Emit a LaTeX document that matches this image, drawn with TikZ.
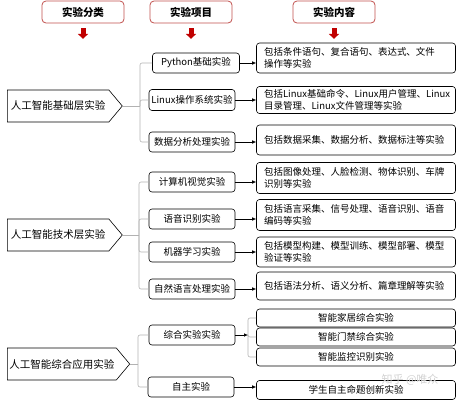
\documentclass[tikz,border=0pt]{standalone}
\usepackage{fontspec}
\setmainfont{Noto Sans CJK SC}
\usetikzlibrary{shapes.symbols,arrows.meta,positioning}

\begin{document}
\begin{tikzpicture}[x=1pt, y=-1pt,
	hdr/.style={draw={rgb,255:red,192;green,80;blue,77}, line width=0.8pt, rounded corners=4pt, minimum width=82pt, minimum height=22pt, font=\fontsize{10.5}{12}\selectfont\bfseries},
	dn/.style={draw={rgb,255:red,192;green,0;blue,0}, line width=5pt, -{Triangle[width=10pt,length=5pt]}},
	cat/.style={draw, fill=white, signal, signal to=east, signal pointer angle=100, line width=0.6pt, minimum width=115pt, minimum height=32pt, inner xsep=2pt, anchor=west, font=\fontsize{10.5}{12}\selectfont},
	item/.style={draw, rounded corners=3pt, line width=0.6pt, minimum width=86pt, minimum height=20pt, inner sep=1pt, font=\fontsize{9.5}{11}\selectfont},
	cont/.style={draw, rounded corners=3pt, line width=0.6pt, minimum width=199pt, text width=184pt, inner xsep=7.5pt, inner ysep=2pt, align=left, font=\fontsize{9.5}{12.5}\selectfont},
	sub/.style={cont, align=center, minimum height=18pt},
	brc/.style={draw=gray!60, line width=0.6pt, rounded corners=2pt},
	lnk/.style={line width=0.6pt, -{Latex[length=4pt,width=3.5pt]}}]
	\useasboundingbox (0,0) rectangle (456,400);
	% headers
	\node[hdr] (H1) at (83, 12) {实验分类};
	\node[hdr] (H2) at (191, 12) {实验项目};
	\node[hdr] (H3) at (334, 12) {实验内容};
	\coordinate[below=5pt of H1] (R1a);
	\coordinate[below=15.5pt of H1] (R1b);
	\coordinate[below=5pt of H2] (R2a);
	\coordinate[below=15.5pt of H2] (R2b);
	\coordinate[below=5pt of H3] (R3a);
	\coordinate[below=15.5pt of H3] (R3b);
	\draw[dn] (R1a) -- (R1b);
	\draw[dn] (R2a) -- (R2b);
	\draw[dn] (R3a) -- (R3b);
	% categories
	\node[cat] (A) at (7, 106) {人工智能基础层实验};
	\node[cat] (B) at (7, 235) {人工智能技术层实验};
	\node[cat] (C) at (7, 364) {人工智能综合应用实验};
	% items
	\node[item, minimum width=87pt] (A1) at (196, 63) {Python基础实验};
	\node[item, minimum height=21pt] (A2) at (192, 100) {Linux操作系统实验};
	\node[item] (A3) at (192, 142) {数据分析处理实验};
	\node[item] (B1) at (192, 182) {计算机视觉实验};
	\node[item] (B2) at (192, 219) {语音识别实验};
	\node[item] (B3) at (192, 252) {机器学习实验};
	\node[item] (B4) at (192, 289) {自然语言处理实验};
	\node[item] (C1) at (192, 335) {综合实验实验};
	\node[item] (C2) at (191, 387) {自主实验};
	% contents
	\node[cont, minimum height=30pt] (A1c) at (356, 58) {包括条件语句、复合语句、表达式、文件\\操作等实验};
	\node[cont, minimum height=27pt] (A2c) at (356, 100) {包括Linux基础命令、Linux用户管理、Linux\\目录管理、Linux文件管理等实验};
	\node[cont, minimum height=30pt] (A3c) at (356, 140) {包括数据采集、数据分析、数据标注等实验};
	\node[cont, minimum height=31pt] (B1c) at (356, 178) {包括图像处理、人脸检测、物体识别、车牌\\识别等实验};
	\node[cont, minimum height=31pt] (B2c) at (356, 215) {包括语言采集、信号处理、语音识别、语音\\编码等实验};
	\node[cont, minimum height=30pt] (B3c) at (356, 252) {包括模型构建、模型训练、模型部署、模型\\验证等实验};
	\node[cont, minimum height=28pt] (B4c) at (356, 286) {包括语法分析、语义分析、篇章理解等实验};
	\node[sub] (K1) at (356, 318) {智能家居综合实验};
	\node[sub] (K2) at (356, 337) {智能门禁综合实验};
	\node[sub] (K3) at (356, 357) {智能监控识别实验};
	\node[sub, minimum height=19pt] (C2c) at (356, 390) {学生自主命题创新实验};
	\node[text=gray!35, font=\fontsize{11}{12}\selectfont] (W) at (410, 380) {知乎 @唯众};
	% brackets
	\coordinate (J1) at (140, 106);
	\coordinate (J2) at (139, 235);
	\coordinate (J3) at (138, 364);
	\coordinate (J4) at (248, 335);
	\draw[brc] (A.east) -- (J1);
	\draw[brc] (J1) |- (A1.west);
	\draw[brc] (J1) |- (A2.west);
	\draw[brc] (J1) |- (A3.west);
	\draw[brc] (B.east) -- (J2);
	\draw[brc] (J2) |- (B1.west);
	\draw[brc] (J2) |- (B2.west);
	\draw[brc] (J2) |- (B3.west);
	\draw[brc] (J2) |- (B4.west);
	\draw[brc] (C.east) -- (J3);
	\draw[brc] (J3) |- (C1.west);
	\draw[brc] (J3) |- (C2.west);
	\draw[brc] (J4) |- (K1.west);
	\draw[brc] (J4) |- (K2.west);
	\draw[brc] (J4) |- (K3.west);
	% arrows
	\draw[lnk] (A1.east) -- (A1.east -| A1c.west);
	\draw[lnk] (A2.east) -- (A2.east -| A2c.west);
	\draw[lnk] (A3.east) -- (A3.east -| A3c.west);
	\draw[lnk] (B1.east) -- (B1.east -| B1c.west);
	\draw[lnk] (B2.east) -- (B2.east -| B2c.west);
	\draw[lnk] (B3.east) -- (B3.east -| B3c.west);
	\draw[lnk] (B4.east) -- (B4.east -| B4c.west);
	\draw[lnk] (C1.east) -- (J4);
	\draw[lnk] (C2.east) -- (C2.east -| C2c.west);
\end{tikzpicture}
\end{document}
